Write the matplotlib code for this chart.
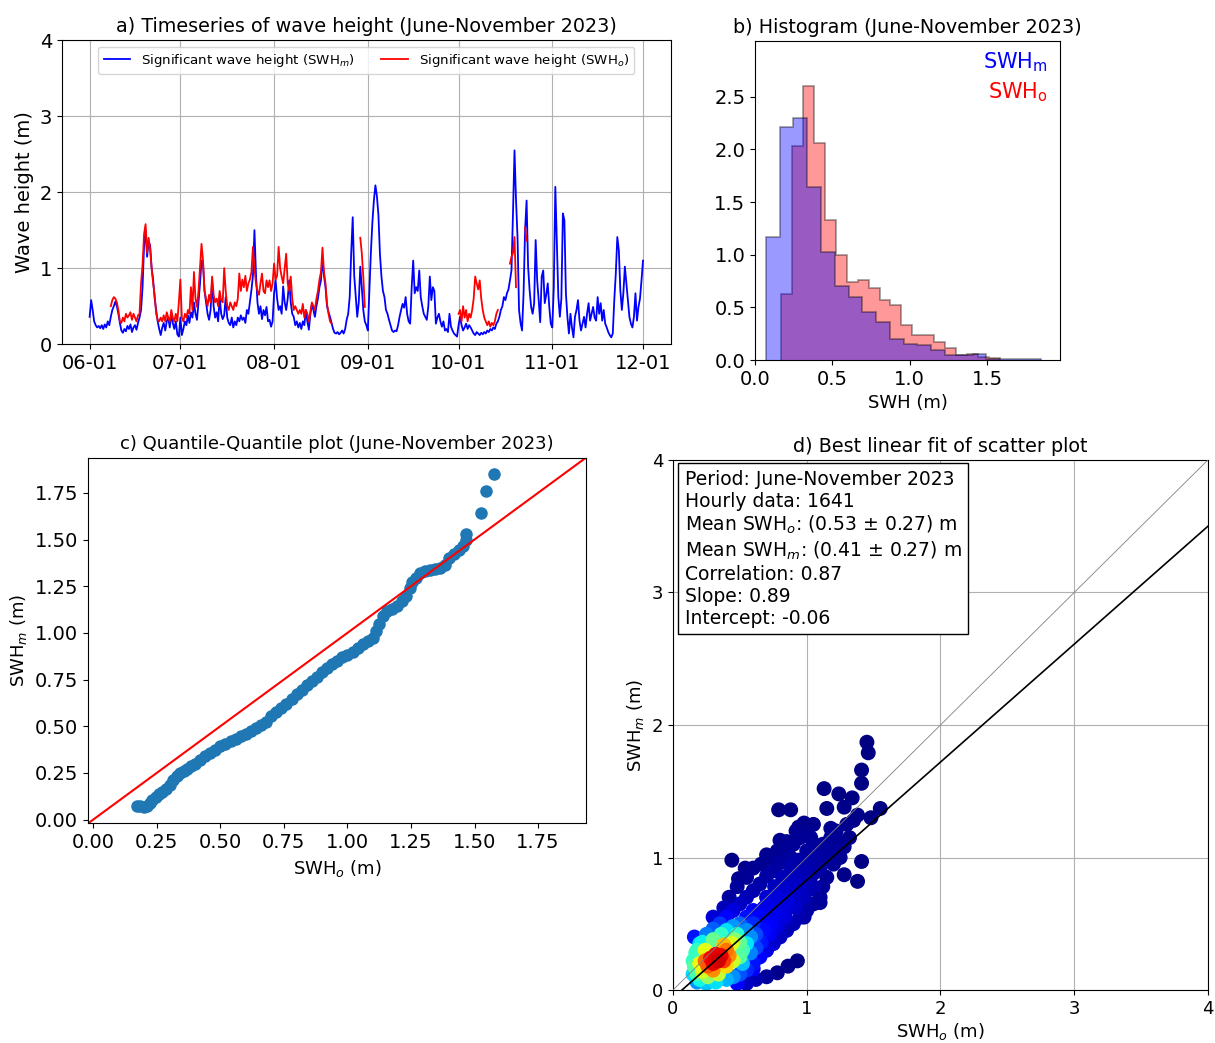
import numpy as np
import pandas as pd
import matplotlib
matplotlib.use("Agg")
import matplotlib.pyplot as plt
import matplotlib.dates as mdates
from matplotlib.ticker import MultipleLocator

nan = np.nan

# 12-hourly significant wave height, 2023-06-01 00:00 .. 2023-12-01 00:00 (m)
swh_model = [
    0.36, 0.58, 0.45, 0.30, 0.25, 0.22, 0.24, 0.21, 0.25, 0.20, 0.26, 0.22, 0.30, 0.25, 0.36, 0.45, 0.50, 0.56, 0.50, 0.40,
    0.28, 0.18, 0.15, 0.20, 0.17, 0.24, 0.20, 0.26, 0.16, 0.22, 0.25, 0.19, 0.28, 0.35, 0.45, 0.75, 1.30, 1.50, 1.15, 1.35,
    1.30, 1.00, 0.85, 0.60, 0.45, 0.30, 0.20, 0.12, 0.22, 0.28, 0.18, 0.30, 0.35, 0.22, 0.40, 0.28, 0.20, 0.30, 0.13, 0.10,
    0.35, 0.12, 0.20, 0.30, 0.25, 0.38, 0.28, 0.42, 0.35, 0.55, 0.40, 0.32, 0.55, 0.80, 1.10, 1.05, 0.70, 0.55, 0.40, 0.32,
    0.45, 0.84, 0.50, 0.35, 0.42, 0.30, 0.62, 0.40, 0.33, 0.38, 0.62, 0.35, 0.28, 0.25, 0.35, 0.22, 0.30, 0.25, 0.35, 0.30,
    0.38, 0.32, 0.35, 0.28, 0.45, 0.40, 0.55, 0.71, 0.90, 1.50, 0.93, 0.55, 0.40, 0.50, 0.33, 0.45, 0.38, 0.49, 0.30, 0.32,
    0.23, 0.30, 0.67, 0.84, 0.60, 0.45, 0.50, 0.40, 0.76, 0.55, 0.45, 0.60, 0.84, 0.55, 0.40, 0.36, 0.25, 0.30, 0.22, 0.28,
    0.20, 0.30, 0.25, 0.45, 0.30, 0.19, 0.40, 0.53, 0.45, 0.36, 0.50, 0.60, 0.75, 0.84, 1.12, 0.90, 0.75, 0.50, 0.42, 0.36,
    0.28, 0.20, 0.15, 0.14, 0.16, 0.13, 0.15, 0.18, 0.14, 0.20, 0.32, 0.40, 0.62, 1.20, 1.67, 0.90, 0.62, 0.36, 0.55, 1.02,
    0.75, 0.45, 0.30, 0.25, 0.18, 0.70, 1.20, 1.60, 1.89, 2.09, 1.95, 1.70, 1.19, 0.89, 0.70, 0.62, 0.45, 0.40, 0.32, 0.25,
    0.18, 0.16, 0.18, 0.17, 0.25, 0.36, 0.45, 0.53, 0.48, 0.62, 0.40, 0.30, 0.27, 0.75, 1.10, 0.67, 0.75, 0.70, 0.97, 0.62,
    0.50, 0.40, 0.36, 0.32, 0.50, 0.89, 0.58, 0.75, 0.70, 0.27, 0.35, 0.40, 0.30, 0.23, 0.30, 0.18, 0.20, 0.16, 0.40, 0.23,
    0.18, 0.14, 0.12, 0.10, 0.25, 0.36, 0.25, 0.18, 0.22, 0.27, 0.20, 0.25, 0.22, 0.18, 0.14, 0.12, 0.16, 0.14, 0.12, 0.15,
    0.13, 0.16, 0.14, 0.18, 0.16, 0.20, 0.18, 0.22, 0.20, 0.27, 0.30, 0.36, 0.45, 0.50, 0.62, 0.58, 0.67, 0.72, 0.84, 0.97,
    1.72, 2.55, 1.90, 1.41, 0.45, 0.28, 0.18, 0.67, 1.50, 1.89, 1.02, 0.71, 0.49, 0.40, 0.54, 1.37, 0.84, 0.58, 0.29, 0.89,
    0.97, 0.54, 0.65, 0.80, 0.49, 0.27, 0.22, 0.75, 2.07, 1.37, 0.62, 0.36, 0.60, 1.72, 1.63, 0.67, 0.36, 0.14, 0.40, 0.22,
    0.09, 0.36, 0.45, 0.58, 0.31, 0.18, 0.27, 0.36, 0.22, 0.40, 0.54, 0.31, 0.40, 0.49, 0.35, 0.31, 0.62, 0.40, 0.54, 0.31,
    0.45, 0.27, 0.22, 0.16, 0.12, 0.09, 0.14, 0.58, 0.93, 1.41, 1.24, 0.71, 0.45, 0.67, 1.02, 0.80, 0.58, 0.36, 0.27, 0.22,
    0.36, 0.67, 0.31, 0.49, 0.60, 0.84, 1.10,
]

swh_obs = (
    [nan] * 14 + [0.50, 0.58, 0.62, 0.60, 0.55, 0.45]
    + [0.30, 0.28, 0.35, 0.30, 0.40, 0.35, 0.38, 0.42, 0.32, 0.40, 0.35, 0.30, 0.38, 0.40, 0.80, 1.05, 1.45, 1.58, 1.20, 1.40]
    + [1.25, 1.00, 0.80, 0.65, 0.40, 0.32, 0.30, 0.35, 0.30, 0.38, 0.30, 0.42, 0.35, 0.30, 0.45, 0.35, 0.30, 0.40, 0.30, 0.55]
    + [0.85, 0.35, 0.30, 0.40, 0.35, 0.45, 0.40, 0.75, 0.45, 0.95, 0.60, 0.49, 0.70, 1.00, 1.32, 1.10, 0.70, 0.60, 0.50, 0.65]
    + [0.55, 0.89, 0.65, 0.55, 0.60, 0.50, 0.70, 0.58, 0.55, 1.00, 0.70, 0.50, 0.45, 0.55, 0.50, 0.45, 0.55, 0.50, 0.60, 0.93]
    + [0.70, 0.85, 0.75, 0.90, 0.70, 0.80, 0.85, 0.95, 1.28, 1.00, 0.80, 0.70, 0.65, 0.80, 0.93, 0.70, 0.67, 0.84, 0.75, 0.84]
    + [0.70, 0.80, 1.06, 0.85, 0.90, 1.28, 1.00, 0.89, 0.80, 1.00, 1.19, 0.80, 0.70, 0.89, 0.60, 0.45, 0.50, 0.45, 0.40, 0.45]
    + [0.40, 0.53, 0.35, 0.45, 0.40, 0.30, 0.42, 0.55, 0.50, 0.45, 0.60, 0.70, 0.85, 0.95, 1.27, 0.95, 0.80, 0.53, 0.40, 0.30]
    + [0.27] + [nan] * 18 + [1.40]
    + [1.20, 0.89, 0.49] + [nan] * 17
    + [nan] * 40
    + [nan] * 4 + [0.40, 0.45, 0.30, 0.50, 0.35, 0.45, 0.30, 0.40, 0.35, 0.45, 0.60, 0.89, 0.80, 0.72, 0.84, 0.60]
    + [0.45, 0.35, 0.30, 0.25, 0.30, 0.23, 0.28, 0.25, 0.30, 0.40, 0.45] + [nan] * 7 + [1.06, 1.15]
    + [1.20, 1.41, 0.75] + [nan] * 5 + [1.54, 1.36] + [nan] * 10
    + [nan] * 67
)

# histogram densities (20 bins each, between min and max of each series)
hist_model = [1.17, 2.21, 2.30, 1.64, 1.03, 0.70, 0.60, 0.46, 0.36, 0.20,
              0.15, 0.14, 0.10, 0.05, 0.05, 0.06, 0.012, 0.006, 0.006, 0.006]
hist_obs = [0.63, 2.03, 2.60, 2.06, 1.33, 1.00, 0.74, 0.76, 0.68, 0.57,
            0.52, 0.33, 0.24, 0.24, 0.17, 0.11, 0.05, 0.06, 0.03, 0.02]
model_range = (0.07, 1.85)
obs_range = (0.17, 1.58)

# quantile pairs (obs, model)
qq_obs = [0.170, 0.185, 0.200, 0.212, 0.222, 0.232, 0.245, 0.258, 0.272, 0.286,
          0.300, 0.315, 0.328, 0.340, 0.355, 0.370, 0.385, 0.400, 0.420, 0.440,
          0.460, 0.480, 0.500, 0.520, 0.540, 0.560, 0.580, 0.600, 0.620, 0.640,
          0.660, 0.680, 0.700, 0.720, 0.740, 0.760, 0.780, 0.800, 0.820, 0.840,
          0.860, 0.880, 0.900, 0.920, 0.940, 0.960, 0.980, 1.000, 1.020, 1.040,
          1.060, 1.080, 1.100, 1.112, 1.125, 1.140, 1.155, 1.175, 1.195, 1.215,
          1.232, 1.245, 1.255, 1.270, 1.285, 1.305, 1.325, 1.345, 1.365, 1.385,
          1.400, 1.420, 1.440, 1.455, 1.465, 1.468, 1.525, 1.545, 1.575]
qq_model = [0.072, 0.070, 0.068, 0.075, 0.090, 0.105, 0.120, 0.135, 0.150, 0.165,
            0.185, 0.210, 0.232, 0.250, 0.262, 0.272, 0.285, 0.300, 0.320, 0.340,
            0.358, 0.375, 0.392, 0.405, 0.420, 0.432, 0.445, 0.458, 0.472, 0.490,
            0.505, 0.525, 0.555, 0.578, 0.600, 0.620, 0.645, 0.670, 0.695, 0.718,
            0.742, 0.765, 0.790, 0.812, 0.832, 0.850, 0.868, 0.880, 0.898, 0.918,
            0.938, 0.955, 0.975, 1.010, 1.050, 1.090, 1.115, 1.130, 1.145, 1.170,
            1.200, 1.240, 1.270, 1.295, 1.320, 1.330, 1.335, 1.340, 1.345, 1.365,
            1.400, 1.425, 1.445, 1.465, 1.500, 1.530, 1.640, 1.760, 1.850]

# scatter: (obs, model, number of hourly records)
sc_obs = [0.26, 0.30, 0.34, 0.28, 0.32, 0.36, 0.24, 0.30, 0.38,
          0.22, 0.20, 0.24, 0.40, 0.44, 0.46, 0.50, 0.38, 0.42, 0.18, 0.20, 0.26, 0.34,
          0.48, 0.52, 0.55, 0.58, 0.16, 0.17, 0.22, 0.30, 0.36, 0.40, 0.45, 0.50,
          0.55, 0.60, 0.62, 0.65, 0.68, 0.70, 0.72, 0.75, 0.78, 0.80, 0.82, 0.85, 0.88, 0.90,
          0.92, 0.95, 0.98, 1.00, 1.02, 1.05, 1.08, 1.10, 1.12, 1.15, 1.18, 1.20, 1.22, 1.25,
          1.30, 1.35, 1.32,
          0.45, 0.50, 0.55, 0.60, 0.65, 0.70, 0.75, 0.80, 0.85, 0.90, 0.95, 1.00, 1.05,
          0.40, 0.35, 0.30, 0.25, 0.20, 0.18, 0.15,
          0.15, 0.18, 0.25, 0.32, 0.40, 0.45, 0.50, 0.55, 0.60, 0.65, 0.70, 0.75, 0.80, 0.85,
          0.90, 0.95, 1.00, 1.05, 1.10, 0.62, 0.70, 0.55, 0.48, 0.66, 0.58, 0.52, 0.72, 0.78,
          0.84, 0.92, 0.98, 1.05, 1.15, 1.20, 1.25, 1.28,
          0.50, 0.45, 0.40, 0.60, 0.55, 0.62, 0.68, 0.74, 0.80, 0.86, 0.90, 0.96, 1.02, 0.70,
          0.76, 0.82, 0.88, 0.94, 1.00,
          0.30, 0.38, 0.42, 0.48, 0.55, 0.60, 0.66, 0.72, 0.78, 0.85, 0.92, 0.98, 0.88, 1.05,
          0.98, 1.12,
          1.45, 1.46, 1.41, 1.41, 1.13, 1.24, 1.34, 1.55, 1.48, 0.79, 0.88, 1.15, 1.28, 1.38,
          0.94, 0.80, 0.44, 0.54, 0.49, 1.41, 1.38, 1.28, 1.10, 0.93, 0.86, 0.78, 0.60, 0.16,
          0.70, 1.03, 1.18, 1.08, 1.23, 0.93]
sc_model = [0.18, 0.20, 0.22, 0.24, 0.27, 0.26, 0.22, 0.15, 0.22,
            0.14, 0.20, 0.30, 0.30, 0.35, 0.38, 0.36, 0.34, 0.26, 0.12, 0.08, 0.10, 0.12,
            0.42, 0.30, 0.45, 0.40, 0.18, 0.28, 0.36, 0.38, 0.42, 0.18, 0.22, 0.25,
            0.55, 0.50, 0.42, 0.55, 0.62, 0.50, 0.65, 0.58, 0.70, 0.62, 0.76, 0.68, 0.80, 0.72,
            0.86, 0.78, 0.90, 0.82, 0.96, 0.88, 1.02, 0.92, 1.10, 1.00, 1.15, 1.05, 1.20, 1.12,
            1.25, 1.28, 1.15,
            0.60, 0.65, 0.70, 0.75, 0.80, 0.86, 0.90, 0.96, 1.05, 1.10, 1.15, 1.20, 1.25,
            0.55, 0.50, 0.46, 0.42, 0.35, 0.30, 0.22,
            0.12, 0.06, 0.05, 0.06, 0.08, 0.10, 0.12, 0.15, 0.20, 0.25, 0.30, 0.35, 0.40, 0.45,
            0.50, 0.55, 0.60, 0.65, 0.70, 0.08, 0.10, 0.05, 0.05, 0.36, 0.28, 0.20, 0.42, 0.48,
            0.55, 0.62, 0.70, 0.78, 0.85, 0.95, 1.00, 1.08,
            0.50, 0.48, 0.45, 0.60, 0.35, 0.32, 0.45, 0.50, 0.55, 0.62, 0.65, 0.72, 0.76, 0.70,
            0.78, 0.85, 0.92, 0.98, 1.05,
            0.55, 0.62, 0.70, 0.78, 0.85, 0.92, 0.95, 1.00, 1.05, 1.12, 1.20, 1.26, 1.00, 1.10,
            0.55, 0.78,
            1.87, 1.79, 1.66, 1.56, 1.52, 1.48, 1.45, 1.37, 1.30, 1.36, 1.36, 1.37, 1.38, 1.32,
            1.23, 1.13, 0.98, 0.92, 0.84, 0.97, 0.82, 0.87, 0.66, 0.22, 0.18, 0.13, 0.16, 0.40,
            1.02, 1.15, 1.22, 1.00, 1.05, 0.97]
sc_count = [50, 60, 60, 50, 50, 40, 30, 30, 30,
            30, 25, 15, 45, 40, 30, 20, 35, 25, 15, 15, 12, 10,
            20, 15, 12, 10, 12, 10, 10, 12, 10, 15, 12, 10,
            5, 6, 5, 6, 5, 5, 5, 5, 4, 5, 4, 4, 4, 4,
            3, 3, 2, 2, 2, 2, 2, 2, 2, 2, 1, 1, 1, 1,
            1, 1, 1,
            3, 3, 2, 2, 2, 2, 1, 1, 1, 1, 1, 1, 1,
            4, 4, 4, 3, 4, 4, 4,
            3, 3, 3, 3, 4, 4, 3, 3, 4, 4, 4, 3, 2, 2,
            2, 2, 1, 1, 1, 2, 2, 2, 2, 4, 4, 4, 4, 3,
            2, 2, 2, 2, 1, 1, 1, 1,
            6, 6, 5, 5, 5, 4, 5, 4, 4, 3, 2, 2, 2, 3,
            3, 2, 2, 2, 1,
            2, 2, 2, 2, 2, 1, 1, 1, 1, 1, 1, 1, 1, 1,
            1, 1,
            1, 1, 1, 1, 1, 1, 1, 1, 1, 1, 1, 1, 1, 1,
            1, 1, 1, 1, 1, 1, 1, 1, 1, 1, 1, 1, 1, 1,
            1, 1, 1, 1, 1, 1]

stats_lines = [
    "Period: June-November 2023",
    "Hourly data: 1641",
    "Mean SWH$_o$: (0.53 \u00b1 0.27) m",
    "Mean SWH$_m$: (0.41 \u00b1 0.27) m",
    "Correlation: 0.87",
    "Slope: 0.89",
    "Intercept: -0.06",
]
fit_slope = 0.89
fit_intercept = -0.06

times = pd.date_range("2023-06-01", periods=len(swh_model), freq="12h")

fig = plt.figure(figsize=(12.15, 10.43), dpi=100)

# a) timeseries
ax_a = fig.add_axes([0.051, 0.670, 0.501, 0.2915])
ax_a.plot(times, swh_model, color="blue", lw=1.3, label="Significant wave height (SWH$_m$)")
ax_a.plot(times, swh_obs, color="red", lw=1.3, label="Significant wave height (SWH$_o$)")
ax_a.set_ylim(0, 4)
ax_a.set_yticks([0, 1, 2, 3, 4])
ax_a.xaxis.set_major_locator(mdates.MonthLocator())
ax_a.xaxis.set_major_formatter(mdates.DateFormatter("%m-%d"))
ax_a.grid(True)
ax_a.tick_params(labelsize=14)
ax_a.set_ylabel("Wave height (m)", fontsize=14)
ax_a.set_title("a) Timeseries of wave height (June-November 2023)", fontsize=13.8)
ax_a.legend(loc="upper center", ncol=2, fontsize=9.6)

# b) histogram
ax_b = fig.add_axes([0.6214, 0.6548, 0.251, 0.3059])
edges_m = np.linspace(model_range[0], model_range[1], len(hist_model) + 1)
edges_o = np.linspace(obs_range[0], obs_range[1], len(hist_obs) + 1)
ax_b.stairs(hist_obs, edges_o, fill=True, facecolor="red", edgecolor="black", alpha=0.4, lw=1.2)
ax_b.stairs(hist_model, edges_m, fill=True, facecolor="blue", edgecolor="black", alpha=0.4, lw=1.2)
ax_b.set_xlim(0, 1.97)
ax_b.set_ylim(0, 3.03)
ax_b.set_xticks([0, 0.5, 1.0, 1.5])
ax_b.set_yticks([0, 0.5, 1.0, 1.5, 2.0, 2.5])
ax_b.tick_params(labelsize=14)
ax_b.set_xlabel("SWH (m)", fontsize=13)
ax_b.set_title("b) Histogram (June-November 2023)", fontsize=13.8)
ax_b.text(0.96, 0.935, r"SWH$_\mathrm{m}$", color="blue", fontsize=15,
          ha="right", va="center", transform=ax_b.transAxes)
ax_b.text(0.96, 0.84, r"SWH$_\mathrm{o}$", color="red", fontsize=15,
          ha="right", va="center", transform=ax_b.transAxes)

# c) QQ plot
ax_c = fig.add_axes([0.0724, 0.2105, 0.410, 0.3508])
ax_c.plot(qq_obs, qq_model, "o", color="#1f77b4", markersize=8)
xl = ax_c.get_xlim()
yl = ax_c.get_ylim()
ends = [min(xl[0], yl[0]), max(xl[1], yl[1])]
ax_c.plot(ends, ends, color="red", lw=1.5)
ax_c.set_xlim(ends)
ax_c.set_ylim(ends)
ax_c.xaxis.set_major_locator(MultipleLocator(0.25))
ax_c.yaxis.set_major_locator(MultipleLocator(0.25))
ax_c.xaxis.set_major_formatter(plt.FormatStrFormatter("%.2f"))
ax_c.yaxis.set_major_formatter(plt.FormatStrFormatter("%.2f"))
ax_c.tick_params(labelsize=14)
ax_c.set_xlabel("SWH$_o$ (m)", fontsize=13)
ax_c.set_ylabel("SWH$_m$ (m)", fontsize=13)
ax_c.set_title("c) Quantile-Quantile plot (June-November 2023)", fontsize=13)

# d) scatter with density colours
ax_d = fig.add_axes([0.5539, 0.0508, 0.4403, 0.5082])
xo = np.array(sc_obs)
ym = np.array(sc_model)
wn = np.array(sc_count)
d2 = (xo[:, None] - xo[None, :]) ** 2 + (ym[:, None] - ym[None, :]) ** 2
dens = (wn[None, :] * np.exp(-d2 / (2 * 0.1 ** 2))).sum(axis=1)
idx = np.argsort(dens)
ax_d.scatter(xo[idx], ym[idx], c=dens[idx], cmap="jet", s=95, vmin=0, vmax=dens.max() * 1.08, zorder=2)
ax_d.plot([0, 4], [0, 4], color="gray", lw=0.6, zorder=3)
xf = np.array([0, 4])
ax_d.plot(xf, fit_slope * xf + fit_intercept, color="black", lw=1.2, zorder=3)
ax_d.set_xlim(0, 4)
ax_d.set_ylim(0, 4)
ax_d.set_xticks([0, 1, 2, 3, 4])
ax_d.set_yticks([0, 1, 2, 3, 4])
ax_d.grid(True, zorder=0)
ax_d.set_axisbelow(True)
ax_d.tick_params(labelsize=13)
ax_d.set_xlabel("SWH$_o$ (m)", fontsize=13, labelpad=2)
ax_d.set_ylabel("SWH$_m$ (m)", fontsize=13)
ax_d.set_title("d) Best linear fit of scatter plot", fontsize=13.8)
ax_d.text(0.022, 0.982, "\n".join(stats_lines), transform=ax_d.transAxes, fontsize=13.5,
          va="top", ha="left", linespacing=1.2, zorder=5,
          bbox=dict(boxstyle="square,pad=0.35", facecolor="white", edgecolor="black"))

fig.savefig("out.png", dpi=100)
